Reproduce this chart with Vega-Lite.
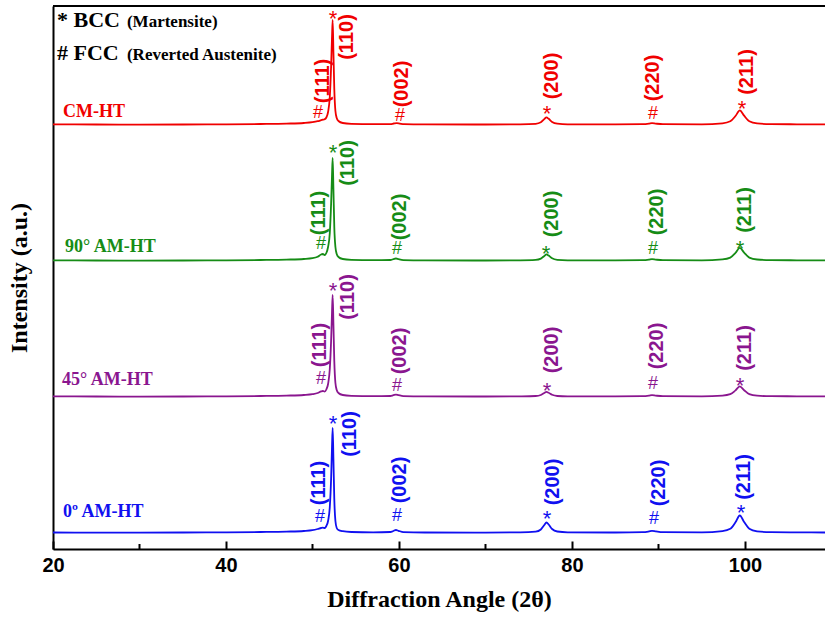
{
  "$schema": "https://vega.github.io/schema/vega-lite/v6.json",
  "width": 772,
  "height": 543,
  "autosize": {"type": "none"},
  "padding": {"left": 53, "top": 6, "right": 0, "bottom": 68},
  "background": "white",
  "config": {"view": {"stroke": null}},
  "datasets": {
    "xrd": [
      {"s":"0º AM-HT","x":20,"y":16.5},{"s":"0º AM-HT","x":25,"y":16.4},{"s":"0º AM-HT","x":30,"y":16.3},{"s":"0º AM-HT","x":35,"y":16.5},{"s":"0º AM-HT","x":40,"y":16.7},{"s":"0º AM-HT","x":44,"y":17.0},{"s":"0º AM-HT","x":47,"y":17.4},{"s":"0º AM-HT","x":49,"y":18.0},{"s":"0º AM-HT","x":50,"y":18.8},{"s":"0º AM-HT","x":50.6,"y":20.0},{"s":"0º AM-HT","x":51.0,"y":21.0},{"s":"0º AM-HT","x":51.2,"y":21.3},{"s":"0º AM-HT","x":51.4,"y":21.0},{"s":"0º AM-HT","x":51.6,"y":23},{"s":"0º AM-HT","x":51.8,"y":28},{"s":"0º AM-HT","x":52.0,"y":42},{"s":"0º AM-HT","x":52.15,"y":70},{"s":"0º AM-HT","x":52.25,"y":100},{"s":"0º AM-HT","x":52.33,"y":121},{"s":"0º AM-HT","x":52.42,"y":90},{"s":"0º AM-HT","x":52.52,"y":50},{"s":"0º AM-HT","x":52.65,"y":28},{"s":"0º AM-HT","x":52.8,"y":21},{"s":"0º AM-HT","x":53.0,"y":19},{"s":"0º AM-HT","x":53.5,"y":17.8},{"s":"0º AM-HT","x":54.5,"y":17},{"s":"0º AM-HT","x":57,"y":16.6},{"s":"0º AM-HT","x":59.0,"y":17},{"s":"0º AM-HT","x":59.35,"y":18},{"s":"0º AM-HT","x":59.65,"y":19},{"s":"0º AM-HT","x":59.95,"y":18.2},{"s":"0º AM-HT","x":60.5,"y":16.9},{"s":"0º AM-HT","x":63,"y":16.5},{"s":"0º AM-HT","x":70,"y":16.4},{"s":"0º AM-HT","x":74,"y":16.6},{"s":"0º AM-HT","x":75.8,"y":17.3},{"s":"0º AM-HT","x":76.4,"y":19.5},{"s":"0º AM-HT","x":76.8,"y":24},{"s":"0º AM-HT","x":77.05,"y":26.5},{"s":"0º AM-HT","x":77.3,"y":24.5},{"s":"0º AM-HT","x":77.7,"y":20},{"s":"0º AM-HT","x":78.3,"y":17.5},{"s":"0º AM-HT","x":79.5,"y":16.7},{"s":"0º AM-HT","x":85,"y":16.5},{"s":"0º AM-HT","x":88.2,"y":16.8},{"s":"0º AM-HT","x":88.9,"y":17.6},{"s":"0º AM-HT","x":89.25,"y":18.2},{"s":"0º AM-HT","x":89.7,"y":17.6},{"s":"0º AM-HT","x":90.5,"y":16.8},{"s":"0º AM-HT","x":95,"y":16.6},{"s":"0º AM-HT","x":97.4,"y":17.9},{"s":"0º AM-HT","x":98.3,"y":20.2},{"s":"0º AM-HT","x":98.9,"y":26.7},{"s":"0º AM-HT","x":99.4,"y":33.5},{"s":"0º AM-HT","x":99.9,"y":27},{"s":"0º AM-HT","x":100.5,"y":20.2},{"s":"0º AM-HT","x":101.4,"y":17.7},{"s":"0º AM-HT","x":103,"y":16.8},{"s":"0º AM-HT","x":106,"y":16.6},{"s":"0º AM-HT","x":109.25,"y":16.5},

      {"s":"45° AM-HT","x":20,"y":152.6},{"s":"45° AM-HT","x":25,"y":152.5},{"s":"45° AM-HT","x":30,"y":152.4},{"s":"45° AM-HT","x":35,"y":152.5},{"s":"45° AM-HT","x":40,"y":152.7},{"s":"45° AM-HT","x":44,"y":153.0},{"s":"45° AM-HT","x":47,"y":153.4},{"s":"45° AM-HT","x":49,"y":154.0},{"s":"45° AM-HT","x":50,"y":154.8},{"s":"45° AM-HT","x":50.6,"y":156},{"s":"45° AM-HT","x":51.0,"y":157.6},{"s":"45° AM-HT","x":51.2,"y":158},{"s":"45° AM-HT","x":51.4,"y":157.4},{"s":"45° AM-HT","x":51.6,"y":159.5},{"s":"45° AM-HT","x":51.8,"y":165},{"s":"45° AM-HT","x":52.0,"y":180},{"s":"45° AM-HT","x":52.15,"y":208},{"s":"45° AM-HT","x":52.25,"y":235},{"s":"45° AM-HT","x":52.33,"y":254},{"s":"45° AM-HT","x":52.42,"y":225},{"s":"45° AM-HT","x":52.52,"y":188},{"s":"45° AM-HT","x":52.65,"y":166},{"s":"45° AM-HT","x":52.8,"y":159},{"s":"45° AM-HT","x":53.0,"y":156},{"s":"45° AM-HT","x":53.5,"y":154},{"s":"45° AM-HT","x":54.5,"y":153.2},{"s":"45° AM-HT","x":57,"y":152.8},{"s":"45° AM-HT","x":59.0,"y":153},{"s":"45° AM-HT","x":59.35,"y":153.8},{"s":"45° AM-HT","x":59.65,"y":154.4},{"s":"45° AM-HT","x":59.95,"y":153.8},{"s":"45° AM-HT","x":60.5,"y":152.9},{"s":"45° AM-HT","x":63,"y":152.6},{"s":"45° AM-HT","x":70,"y":152.5},{"s":"45° AM-HT","x":74,"y":152.7},{"s":"45° AM-HT","x":75.8,"y":153},{"s":"45° AM-HT","x":76.4,"y":154},{"s":"45° AM-HT","x":76.8,"y":156},{"s":"45° AM-HT","x":77.05,"y":157.1},{"s":"45° AM-HT","x":77.3,"y":156.2},{"s":"45° AM-HT","x":77.7,"y":154.2},{"s":"45° AM-HT","x":78.3,"y":153},{"s":"45° AM-HT","x":79.5,"y":152.7},{"s":"45° AM-HT","x":85,"y":152.6},{"s":"45° AM-HT","x":88.2,"y":152.8},{"s":"45° AM-HT","x":88.9,"y":153.4},{"s":"45° AM-HT","x":89.25,"y":153.9},{"s":"45° AM-HT","x":89.7,"y":153.4},{"s":"45° AM-HT","x":90.5,"y":152.8},{"s":"45° AM-HT","x":95,"y":152.7},{"s":"45° AM-HT","x":97.4,"y":153.4},{"s":"45° AM-HT","x":98.3,"y":154.8},{"s":"45° AM-HT","x":98.9,"y":158.6},{"s":"45° AM-HT","x":99.4,"y":162.6},{"s":"45° AM-HT","x":99.9,"y":158.8},{"s":"45° AM-HT","x":100.5,"y":154.8},{"s":"45° AM-HT","x":101.4,"y":153.3},{"s":"45° AM-HT","x":103,"y":152.8},{"s":"45° AM-HT","x":106,"y":152.7},{"s":"45° AM-HT","x":109.25,"y":152.6},

      {"s":"90° AM-HT","x":20,"y":288.6},{"s":"90° AM-HT","x":25,"y":288.5},{"s":"90° AM-HT","x":30,"y":288.4},{"s":"90° AM-HT","x":35,"y":288.5},{"s":"90° AM-HT","x":40,"y":288.7},{"s":"90° AM-HT","x":44,"y":289.0},{"s":"90° AM-HT","x":47,"y":289.4},{"s":"90° AM-HT","x":49,"y":290.0},{"s":"90° AM-HT","x":50,"y":290.8},{"s":"90° AM-HT","x":50.6,"y":292.3},{"s":"90° AM-HT","x":51.0,"y":294.5},{"s":"90° AM-HT","x":51.2,"y":295},{"s":"90° AM-HT","x":51.4,"y":294},{"s":"90° AM-HT","x":51.6,"y":296},{"s":"90° AM-HT","x":51.8,"y":302},{"s":"90° AM-HT","x":52.0,"y":316},{"s":"90° AM-HT","x":52.15,"y":345},{"s":"90° AM-HT","x":52.25,"y":372},{"s":"90° AM-HT","x":52.33,"y":391},{"s":"90° AM-HT","x":52.42,"y":360},{"s":"90° AM-HT","x":52.52,"y":322},{"s":"90° AM-HT","x":52.65,"y":302},{"s":"90° AM-HT","x":52.8,"y":295},{"s":"90° AM-HT","x":53.0,"y":292},{"s":"90° AM-HT","x":53.5,"y":290},{"s":"90° AM-HT","x":54.5,"y":289.2},{"s":"90° AM-HT","x":57,"y":288.8},{"s":"90° AM-HT","x":59.0,"y":289},{"s":"90° AM-HT","x":59.35,"y":289.8},{"s":"90° AM-HT","x":59.65,"y":290.5},{"s":"90° AM-HT","x":59.95,"y":289.8},{"s":"90° AM-HT","x":60.5,"y":288.9},{"s":"90° AM-HT","x":63,"y":288.6},{"s":"90° AM-HT","x":70,"y":288.5},{"s":"90° AM-HT","x":74,"y":288.7},{"s":"90° AM-HT","x":75.8,"y":289.1},{"s":"90° AM-HT","x":76.4,"y":290.4},{"s":"90° AM-HT","x":76.8,"y":293.1},{"s":"90° AM-HT","x":77.05,"y":294.6},{"s":"90° AM-HT","x":77.3,"y":293.4},{"s":"90° AM-HT","x":77.7,"y":290.7},{"s":"90° AM-HT","x":78.3,"y":289.2},{"s":"90° AM-HT","x":79.5,"y":288.7},{"s":"90° AM-HT","x":85,"y":288.6},{"s":"90° AM-HT","x":88.2,"y":288.8},{"s":"90° AM-HT","x":88.9,"y":289.4},{"s":"90° AM-HT","x":89.25,"y":289.9},{"s":"90° AM-HT","x":89.7,"y":289.4},{"s":"90° AM-HT","x":90.5,"y":288.8},{"s":"90° AM-HT","x":95,"y":288.7},{"s":"90° AM-HT","x":97.4,"y":289.6},{"s":"90° AM-HT","x":98.3,"y":291.4},{"s":"90° AM-HT","x":98.9,"y":296.1},{"s":"90° AM-HT","x":99.4,"y":301.1},{"s":"90° AM-HT","x":99.9,"y":296.4},{"s":"90° AM-HT","x":100.5,"y":291.4},{"s":"90° AM-HT","x":101.4,"y":289.5},{"s":"90° AM-HT","x":103,"y":288.9},{"s":"90° AM-HT","x":106,"y":288.7},{"s":"90° AM-HT","x":109.25,"y":288.6},

      {"s":"CM-HT","x":20,"y":424.6},{"s":"CM-HT","x":25,"y":424.5},{"s":"CM-HT","x":30,"y":424.4},{"s":"CM-HT","x":35,"y":424.5},{"s":"CM-HT","x":40,"y":424.7},{"s":"CM-HT","x":44,"y":425.0},{"s":"CM-HT","x":47,"y":425.4},{"s":"CM-HT","x":49,"y":426.0},{"s":"CM-HT","x":50,"y":426.8},{"s":"CM-HT","x":50.6,"y":427.8},{"s":"CM-HT","x":51.0,"y":428.8},{"s":"CM-HT","x":51.2,"y":429.3},{"s":"CM-HT","x":51.4,"y":429.8},{"s":"CM-HT","x":51.6,"y":431.5},{"s":"CM-HT","x":51.8,"y":437},{"s":"CM-HT","x":52.0,"y":452},{"s":"CM-HT","x":52.15,"y":482},{"s":"CM-HT","x":52.25,"y":510},{"s":"CM-HT","x":52.33,"y":529},{"s":"CM-HT","x":52.42,"y":497},{"s":"CM-HT","x":52.52,"y":460},{"s":"CM-HT","x":52.65,"y":438},{"s":"CM-HT","x":52.8,"y":431},{"s":"CM-HT","x":53.0,"y":428},{"s":"CM-HT","x":53.5,"y":426},{"s":"CM-HT","x":54.5,"y":425.2},{"s":"CM-HT","x":57,"y":424.8},{"s":"CM-HT","x":59.0,"y":424.9},{"s":"CM-HT","x":59.4,"y":425.5},{"s":"CM-HT","x":59.75,"y":425.9},{"s":"CM-HT","x":60.1,"y":425.4},{"s":"CM-HT","x":60.6,"y":424.8},{"s":"CM-HT","x":63,"y":424.6},{"s":"CM-HT","x":70,"y":424.5},{"s":"CM-HT","x":74,"y":424.7},{"s":"CM-HT","x":75.8,"y":425.2},{"s":"CM-HT","x":76.4,"y":426.7},{"s":"CM-HT","x":76.8,"y":429.9},{"s":"CM-HT","x":77.05,"y":431.6},{"s":"CM-HT","x":77.3,"y":430.2},{"s":"CM-HT","x":77.7,"y":427.1},{"s":"CM-HT","x":78.3,"y":425.3},{"s":"CM-HT","x":79.5,"y":424.7},{"s":"CM-HT","x":85,"y":424.6},{"s":"CM-HT","x":88.2,"y":424.8},{"s":"CM-HT","x":88.9,"y":425.4},{"s":"CM-HT","x":89.25,"y":425.9},{"s":"CM-HT","x":89.7,"y":425.4},{"s":"CM-HT","x":90.5,"y":424.8},{"s":"CM-HT","x":95,"y":424.7},{"s":"CM-HT","x":97.4,"y":425.7},{"s":"CM-HT","x":98.3,"y":427.7},{"s":"CM-HT","x":98.9,"y":433},{"s":"CM-HT","x":99.4,"y":438.6},{"s":"CM-HT","x":99.9,"y":433.3},{"s":"CM-HT","x":100.5,"y":427.7},{"s":"CM-HT","x":101.4,"y":425.6},{"s":"CM-HT","x":103,"y":424.9},{"s":"CM-HT","x":106,"y":424.7},{"s":"CM-HT","x":109.25,"y":424.6}
    ],
    "rot": [
      {"s":"0º AM-HT","t":"(111)","x":50.75,"y":66},{"s":"0º AM-HT","t":"(110)","x":54.34,"y":115},{"s":"0º AM-HT","t":"(002)","x":60.12,"y":69},{"s":"0º AM-HT","t":"(200)","x":77.8,"y":67},{"s":"0º AM-HT","t":"(220)","x":90.06,"y":66},{"s":"0º AM-HT","t":"(211)","x":99.88,"y":72},
      {"s":"90° AM-HT","t":"(111)","x":50.75,"y":336},{"s":"90° AM-HT","t":"(110)","x":54.1,"y":386},{"s":"90° AM-HT","t":"(002)","x":60.12,"y":332},{"s":"90° AM-HT","t":"(200)","x":77.69,"y":335},{"s":"90° AM-HT","t":"(220)","x":89.83,"y":337},{"s":"90° AM-HT","t":"(211)","x":100.0,"y":339},
      {"s":"45° AM-HT","t":"(111)","x":50.87,"y":204},{"s":"45° AM-HT","t":"(110)","x":54.1,"y":252},{"s":"45° AM-HT","t":"(002)","x":60.12,"y":198},{"s":"45° AM-HT","t":"(200)","x":77.69,"y":199},{"s":"45° AM-HT","t":"(220)","x":89.83,"y":203},{"s":"45° AM-HT","t":"(211)","x":100.0,"y":201},
      {"s":"CM-HT","t":"(111)","x":51.21,"y":468},{"s":"CM-HT","t":"(110)","x":53.99,"y":512},{"s":"CM-HT","t":"(002)","x":60.35,"y":465},{"s":"CM-HT","t":"(200)","x":77.69,"y":473},{"s":"CM-HT","t":"(220)","x":89.36,"y":471},{"s":"CM-HT","t":"(211)","x":100.23,"y":477}
    ],
    "hash": [
      {"s":"0º AM-HT","t":"#","x":50.87,"y":27},{"s":"0º AM-HT","t":"#","x":59.77,"y":28},{"s":"0º AM-HT","t":"#","x":89.48,"y":25},
      {"s":"90° AM-HT","t":"#","x":50.98,"y":300},{"s":"90° AM-HT","t":"#","x":59.77,"y":295},{"s":"90° AM-HT","t":"#","x":89.36,"y":295},
      {"s":"45° AM-HT","t":"#","x":50.98,"y":165},{"s":"45° AM-HT","t":"#","x":59.77,"y":158},{"s":"45° AM-HT","t":"#","x":89.36,"y":160},
      {"s":"CM-HT","t":"#","x":50.64,"y":431},{"s":"CM-HT","t":"#","x":60.12,"y":428},{"s":"CM-HT","t":"#","x":89.36,"y":430}
    ],
    "star": [
      {"s":"0º AM-HT","t":"*","x":52.37,"y":118},{"s":"0º AM-HT","t":"*","x":77.11,"y":23},{"s":"0º AM-HT","t":"*","x":99.54,"y":29},
      {"s":"90° AM-HT","t":"*","x":52.37,"y":389},{"s":"90° AM-HT","t":"*","x":77.0,"y":288},{"s":"90° AM-HT","t":"*","x":99.42,"y":293},
      {"s":"45° AM-HT","t":"*","x":52.37,"y":251},{"s":"45° AM-HT","t":"*","x":77.11,"y":151},{"s":"45° AM-HT","t":"*","x":99.42,"y":156},
      {"s":"CM-HT","t":"*","x":52.37,"y":523},{"s":"CM-HT","t":"*","x":77.11,"y":428},{"s":"CM-HT","t":"*","x":99.65,"y":433}
    ],
    "names": [
      {"s":"CM-HT","t":"CM-HT","x":21.16,"y":432},
      {"s":"90° AM-HT","t":"90° AM-HT","x":21.39,"y":297},
      {"s":"45° AM-HT","t":"45° AM-HT","x":21.04,"y":164},
      {"s":"0º AM-HT","t":"0º AM-HT","x":21.16,"y":32}
    ],
    "legbig": [
      {"t":"* BCC","x":20.46,"y":522},
      {"t":"# FCC","x":20.46,"y":489}
    ],
    "legsmall": [
      {"t":"(Martensite)","x":28.55,"y":522},
      {"t":"(Reverted Austenite)","x":28.55,"y":489}
    ],
    "minor": [{"x":30},{"x":50},{"x":70},{"x":90}]
  },
  "layer": [
    {
      "data": {"name": "xrd"},
      "mark": {"type": "line", "strokeWidth": 1.8, "interpolate": "monotone"},
      "encoding": {
        "x": {
          "field": "x", "type": "quantitative",
          "scale": {"domain": [20, 109.25], "nice": false, "zero": false},
          "axis": {
            "orient": "bottom",
            "values": [20, 40, 60, 80, 100],
            "tickSize": -8,
            "tickColor": "black", "tickWidth": 2,
            "domainColor": "black", "domainWidth": 2,
            "labelFont": "Liberation Sans", "labelFontWeight": "bold", "labelFontSize": 20, "labelColor": "black",
            "labelPadding": 14, "labelFlush": false,
            "grid": false,
            "title": "Diffraction Angle (2θ)",
            "titleFont": "Liberation Serif", "titleFontSize": 24, "titleFontWeight": "bold", "titleColor": "black",
            "titlePadding": 12
          }
        },
        "y": {
          "field": "y", "type": "quantitative",
          "scale": {"domain": [0, 543], "nice": false},
          "axis": {
            "ticks": false, "labels": false, "grid": false,
            "domainColor": "black", "domainWidth": 2,
            "title": "Intensity (a.u.)",
            "titleFont": "Liberation Serif", "titleFontSize": 24, "titleFontWeight": "bold", "titleColor": "black",
            "titlePadding": 22
          }
        },
        "color": {
          "field": "s", "type": "nominal",
          "scale": {"domain": ["CM-HT", "90° AM-HT", "45° AM-HT", "0º AM-HT"], "range": ["#f00000", "#168c16", "#8a168f", "#1010f0"]},
          "legend": null
        },
        "detail": {"field": "s"}
      }
    },
    {
      "data": {"name": "minor"},
      "mark": {"type": "rule", "color": "black", "strokeWidth": 2},
      "encoding": {
        "x": {"field": "x", "type": "quantitative"},
        "y": {"datum": 0},
        "y2": {"datum": 5}
      }
    },
    {
      "data": {"values": [{}]},
      "mark": {"type": "rule", "color": "black", "strokeWidth": 2},
      "encoding": {"y": {"datum": 543}}
    },
    {
      "data": {"name": "rot"},
      "mark": {"type": "text", "angle": 270, "align": "center", "baseline": "middle", "font": "Liberation Sans", "fontWeight": "bold", "fontSize": 20},
      "encoding": {
        "x": {"field": "x", "type": "quantitative"},
        "y": {"field": "y", "type": "quantitative"},
        "text": {"field": "t"},
        "color": {"field": "s", "type": "nominal", "legend": null}
      }
    },
    {
      "data": {"name": "hash"},
      "mark": {"type": "text", "align": "center", "baseline": "alphabetic", "font": "Liberation Sans", "fontSize": 18},
      "encoding": {
        "x": {"field": "x", "type": "quantitative"},
        "y": {"field": "y", "type": "quantitative"},
        "text": {"field": "t"},
        "color": {"field": "s", "type": "nominal", "legend": null}
      }
    },
    {
      "data": {"name": "star"},
      "mark": {"type": "text", "align": "center", "baseline": "alphabetic", "font": "Liberation Sans", "fontSize": 22},
      "encoding": {
        "x": {"field": "x", "type": "quantitative"},
        "y": {"field": "y", "type": "quantitative"},
        "text": {"field": "t"},
        "color": {"field": "s", "type": "nominal", "legend": null}
      }
    },
    {
      "data": {"name": "names"},
      "mark": {"type": "text", "align": "left", "baseline": "alphabetic", "font": "Liberation Serif", "fontWeight": "bold", "fontSize": 18},
      "encoding": {
        "x": {"field": "x", "type": "quantitative"},
        "y": {"field": "y", "type": "quantitative"},
        "text": {"field": "t"},
        "color": {"field": "s", "type": "nominal", "legend": null}
      }
    },
    {
      "data": {"name": "legbig"},
      "mark": {"type": "text", "align": "left", "baseline": "alphabetic", "font": "Liberation Serif", "fontWeight": "bold", "fontSize": 22, "color": "black"},
      "encoding": {
        "x": {"field": "x", "type": "quantitative"},
        "y": {"field": "y", "type": "quantitative"},
        "text": {"field": "t"}
      }
    },
    {
      "data": {"name": "legsmall"},
      "mark": {"type": "text", "align": "left", "baseline": "alphabetic", "font": "Liberation Serif", "fontWeight": "bold", "fontSize": 17, "color": "black"},
      "encoding": {
        "x": {"field": "x", "type": "quantitative"},
        "y": {"field": "y", "type": "quantitative"},
        "text": {"field": "t"}
      }
    }
  ]
}
